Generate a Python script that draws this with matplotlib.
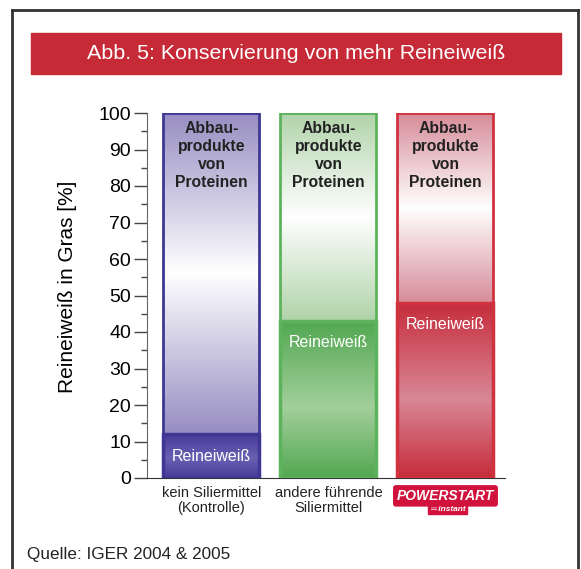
import matplotlib.pyplot as plt
import numpy as np
from matplotlib.colors import LinearSegmentedColormap
from matplotlib.patches import Rectangle
from matplotlib.lines import Line2D

plt.rcParams['font.family'] = ['Liberation Sans', 'DejaVu Sans']

categories = ['kein Siliermittel\n(Kontrolle)', 'andere führende\nSiliermittel', 'POWERSTART']
reineiweiss = [12, 43, 48]
gesamt = [100, 100, 100]
yticks = [0, 10, 20, 30, 40, 50, 60, 70, 80, 90, 100]

edge_colors = ['#3f3794', '#5cb35c', '#d0323f']
upper_colors = ['#978dc2', '#b0d3a9', '#d68c99']
lower_colors = [('#463a99', '#6a60b3'), ('#52a852', '#a3cf9b'), ('#c62c3a', '#d98797')]

W, H = 581, 569
fig = plt.figure(figsize=(W / 100, H / 100), dpi=100)

def px(x0, y0, x1, y1):
    # pixel box (top-left origin) -> figure fraction
    return [x0 / W, 1 - y1 / H, (x1 - x0) / W, (y1 - y0) / H]

# frame
fig.add_artist(Line2D([12 / W, 12 / W], [0, 1 - 10 / H], color='#333333', lw=2, transform=fig.transFigure))
fig.add_artist(Line2D([12 / W, 578 / W], [1 - 10 / H, 1 - 10 / H], color='#333333', lw=2, transform=fig.transFigure))
fig.add_artist(Line2D([578 / W, 578 / W], [0, 1 - 10 / H], color='#333333', lw=2, transform=fig.transFigure))

# title bar
b = px(31, 33, 561, 74)
fig.add_artist(Rectangle((b[0], b[1]), b[2], b[3], color='#c62a36', transform=fig.transFigure))
fig.text((31 + 561) / 2 / W, 1 - 53.5 / H, 'Abb. 5: Konservierung von mehr Reineiweiß',
         color='white', fontsize=15.4, ha='center', va='center')

# axes: x from 147 to 505 px, y from 113 (100) to 478 (0)
ax = fig.add_axes(px(147, 113, 505, 478))
x = np.arange(len(categories))
width = 0.82
grad = np.linspace(0, 1, 256).reshape(-1, 1)

for i in range(len(categories)):
    lo = reineiweiss[i]
    hi = gesamt[i]
    cu = upper_colors[i]
    cmap_u = LinearSegmentedColormap.from_list('u%d' % i, [(0, cu), (0.5, 'white'), (1, cu)])
    ax.imshow(grad, cmap=cmap_u, origin='lower', aspect='auto',
              extent=(x[i] - width / 2, x[i] + width / 2, lo, hi), zorder=1)
    c1, c2 = lower_colors[i]
    cmap_l = LinearSegmentedColormap.from_list('l%d' % i, [(0, c1), (0.45, c2), (1, c1)])
    ax.imshow(grad, cmap=cmap_l, origin='lower', aspect='auto',
              extent=(x[i] - width / 2, x[i] + width / 2, 0, lo), zorder=1)
    ax.add_patch(Rectangle((x[i] - width / 2, 0), width, hi, fill=False,
                           edgecolor=edge_colors[i], lw=2, zorder=3))
    ax.add_patch(Rectangle((x[i] - width / 2, 0), width, lo, fill=False,
                           edgecolor=edge_colors[i], lw=2.5, zorder=3))
    ax.text(x[i], hi - 2.3, 'Abbau-\nprodukte\nvon\nProteinen', ha='center', va='top',
            fontsize=11.3, fontweight='bold', color='#222222', linespacing=1.25, zorder=4)
    ax.text(x[i], lo - 6, 'Reineiweiß', ha='center', va='center', fontsize=11.5,
            color='white', zorder=4)

ax.set_xlim(-0.551, -0.551 + 358 / 117)
ax.set_ylim(0, 100)
ax.set_yticks(yticks)
ax.set_yticks(np.arange(5, 100, 10), minor=True)
ax.tick_params(axis='y', which='major', length=9.5, width=1, color='#444444', labelsize=14, pad=2)
ax.tick_params(axis='y', which='minor', length=4.5, width=1, color='#444444')
ax.set_xticks(x, labels=categories[:2] + [''])
ax.tick_params(axis='x', length=0, pad=6, labelsize=10.5, labelcolor='#222222')
for lab in ax.get_xticklabels():
    lab.set_linespacing(1.1)
for s in ['top', 'right']:
    ax.spines[s].set_visible(False)
ax.spines['left'].set_color('#666666')
ax.spines['bottom'].set_color('#333333')
ax.set_ylabel('Reineiweiß in Gras [%]', fontsize=15)
ax.yaxis.set_label_coords(-0.195, 0.525)

# POWERSTART logo in place of the third category label
tr = ax.get_xaxis_transform()
ax.text(x[2], -0.049, categories[2], transform=tr, ha='center', va='center',
        fontsize=10, fontweight='bold', fontstyle='italic', color='white', clip_on=False,
        bbox=dict(boxstyle='round,pad=0.22,rounding_size=0.15', fc='#d0123c', ec='#d0123c'))
ax.text(x[2] + 0.02, -0.085, '═ instant', transform=tr, ha='center', va='center',
        fontsize=6, fontweight='bold', fontstyle='italic', color='white', clip_on=False,
        bbox=dict(boxstyle='square,pad=0.2', fc='#d0123c', ec='#d0123c'))

fig.text(27 / W, 1 - 555 / H, 'Quelle: IGER 2004 & 2005', fontsize=12.3, color='#222222',
         ha='left', va='center')

fig.savefig('out.png', dpi=100)
